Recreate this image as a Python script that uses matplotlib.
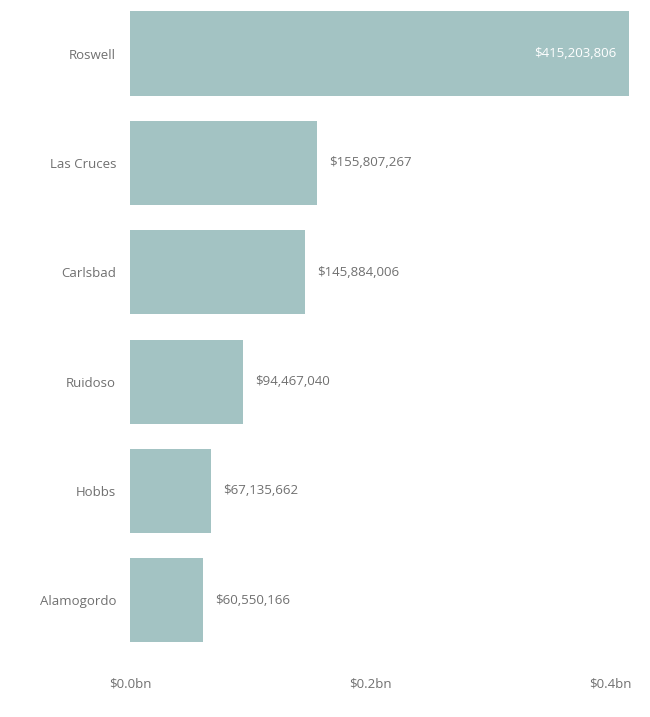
import matplotlib.pyplot as plt
from matplotlib.ticker import FuncFormatter

# City revenue totals
cities = ["Roswell", "Las Cruces", "Carlsbad", "Ruidoso", "Hobbs", "Alamogordo"]
revenue = [415203806, 155807267, 145884006, 94467040, 67135662, 60550166]
x_ticks = [0, 200000000, 400000000]

bar_color = "#a3c3c3"
text_color = "#707070"

plt.rcParams["font.family"] = ["Open Sans", "DejaVu Sans"]

fig = plt.figure(figsize=(6.5, 7.17), dpi=100)
ax = fig.add_axes([0.2, 0.0865, 0.8, 0.915])

ypos = list(range(len(cities)))
ax.barh(ypos, revenue, height=0.77, color=bar_color)
ax.set_ylim(len(cities) - 0.5, -0.5)
ax.set_xlim(0, 433000000)

ax.set_yticks(ypos)
ax.set_yticklabels(cities, fontsize=9.5, color=text_color)
ax.set_xticks(x_ticks)
ax.xaxis.set_major_formatter(FuncFormatter(lambda v, p: f"${v / 1e9:.1f}bn"))
ax.tick_params(axis="x", labelsize=9.5, labelcolor=text_color, length=0, pad=16)
ax.tick_params(axis="y", length=0, pad=10)

for s in ax.spines.values():
    s.set_visible(False)

# value labels: inside the longest bar, outside the rest
for y, v in zip(ypos, revenue):
    label = f"${v:,.0f}"
    if v > 300000000:
        ax.text(v - 10000000, y, label, ha="right", va="center",
                fontsize=9.5, color="white")
    else:
        ax.text(v + 10000000, y, label, ha="left", va="center",
                fontsize=9.5, color=text_color)

fig.savefig("out.png", dpi=100, facecolor="white")
